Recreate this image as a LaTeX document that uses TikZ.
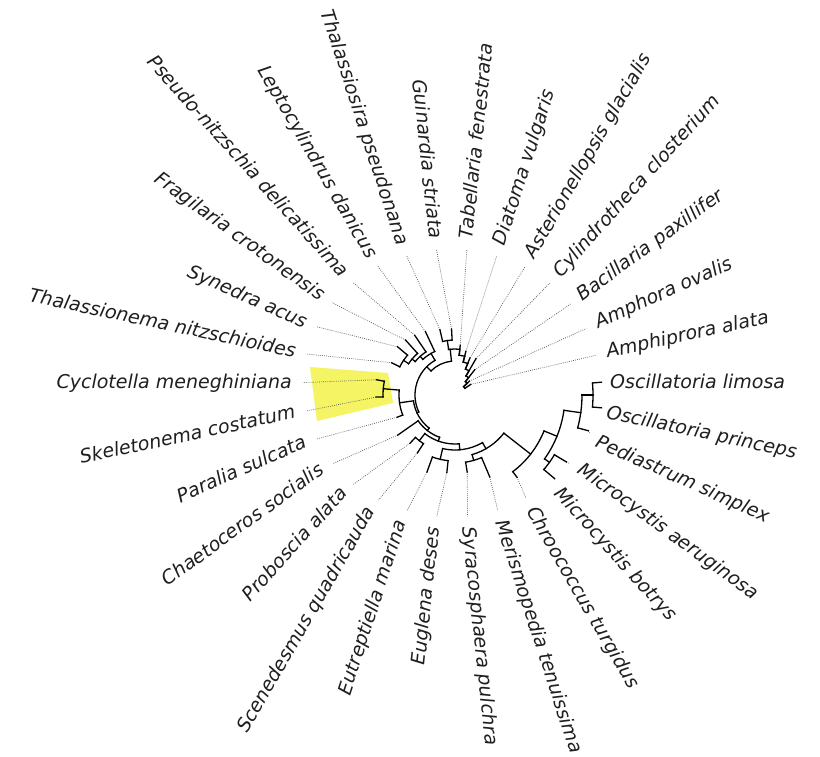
\documentclass[tikz,border=0pt]{standalone}
\usepackage{fontspec}
\newfontfamily\taxfont{DejaVu Sans}
\usetikzlibrary{calc}
\definecolor{hilite}{RGB}{244,244,100}
\tikzset{
  branch/.style = {line width=1.3pt, black, line cap=rect},
  leafline/.style = {black!65, line width=0.7pt,
    dash pattern=on 0.8pt off 1.3pt, shorten >=11pt},% dotted link tip -> name
  taxlabel/.style = {inner sep=0pt, text=black!88,
    font=\taxfont\itshape\fontsize{19}{22}\selectfont,
    text height=14pt, text depth=4pt}
}
% arc of a clade: radius, from, to (around the tree centre T)
\newcommand{\brarc}[3]{\draw[branch] ($(T)+(#2:#1pt)$) arc[start angle=#2, end angle=#3, radius=#1pt];}
% radial branch: angle, from radius, to radius
\newcommand{\brrad}[3]{\draw[branch] ($(T)+(#1:#2pt)$) -- ($(T)+(#1:#3pt)$);}
% leaf: [link style]{name}{tip angle}{tip radius}{label angle}{text}
\newcommand{\taxon}[6][leafline]{%
  \coordinate (t-#2) at ($(T)+(#3:#4pt)$);
  \pgfmathtruncatemacro{\flip}{and(#5>90,#5<270)}
  \ifnum\flip=1
    \node[taxlabel, anchor=east, rotate=#5+180] (l-#2) at ($(C)+({159*cos(#5)},{145*sin(#5)})$) {#6};
    \draw[#1] (t-#2) -- (l-#2.east);
  \else
    \node[taxlabel, anchor=west, rotate=#5] (l-#2) at ($(C)+({159*cos(#5)},{145*sin(#5)})$) {#6};
    \draw[#1] (t-#2) -- (l-#2.west);
  \fi}

\begin{document}
\begin{tikzpicture}[x=1pt,y=1pt]
  \fill[white] (0,0) rectangle (820,-756);
  \useasboundingbox (0,0) rectangle (820,-756);
  \coordinate (T) at (455,-395);% tree centre
  \coordinate (C) at (451,-383);% label centre

  % highlighted clade
  \fill[hilite] (310,-367) -- (388,-373) -- (393,-403) -- (317,-421) -- cycle;

  % leaves and names
  \taxon[draw=none]{olim}{5}{147}{0}{Oscillatoria limosa}
  \taxon[draw=none]{opri}{355}{147}{348}{Oscillatoria princeps}
  \taxon{pedi}{345}{138}{336}{Pediastrum simplex}
  \taxon{maer}{329}{130}{324}{Microcystis aeruginosa}
  \taxon{mbot}{320}{130}{312}{Microcystis botrys}
  \taxon{chro}{307}{103}{300}{Chroococcus turgidus}
  \taxon{meri}{293}{89}{288}{Merismopedia tenuissima}
  \taxon{syra}{279}{78}{276}{Syracosphaera pulchra}
  \taxon{eugl}{264}{78}{264}{Euglena deses}
  \taxon{eutr}{250}{82}{252}{Eutreptiella marina}
  \taxon{scen}{237}{69}{240}{Scenedesmus quadricauda}
  \taxon{prob}{227}{66}{228}{Proboscia alata}
  \taxon{chae}{215}{70}{216}{Chaetoceros socialis}
  \taxon{para}{201}{62}{204}{Paralia sulcata}
  \taxon{skel}{181.5}{79}{192}{Skeletonema costatum}
  \taxon{cycl}{169}{80}{180}{Cyclotella meneghiniana}
  \taxon{thni}{153}{71}{168}{Thalassionema nitzschioides}
  \taxon{syne}{140}{75}{156}{Synedra acus}
  \taxon{frag}{132}{74}{144}{Fragilaria crotonensis}
  \taxon{pseu}{124}{72}{132}{Pseudo-nitzschia delicatissima}
  \taxon{lept}{115}{70}{120}{Leptocylindrus danicus}
  \taxon{thps}{103}{67}{108}{Thalassiosira pseudonana}
  \taxon{guin}{93}{66}{96}{Guinardia striata}
  \taxon{tabe}{84}{50}{84}{Tabellaria fenestrata}
  \taxon{diat}{76}{45}{72}{Diatoma vulgaris}
  \taxon{aste}{68}{40}{60}{Asterionellopsis glacialis}
  \taxon{cyli}{60}{42}{48}{Cylindrotheca closterium}
  \taxon{baci}{52}{32}{36}{Bacillaria paxillifer}
  \taxon{amph}{44}{20}{24}{Amphora ovalis}
  \taxon{ampr}{34}{19}{12}{Amphiprora alata}

  % cyanobacteria side
  \brarc{138}{355}{365} \brrad{355}{138}{147} \brrad{365}{138}{147}
  \brarc{127}{345}{360} \brrad{360}{127}{138} \brrad{345}{127}{138}
  \brarc{116}{320}{329} \brrad{320}{116}{130} \brrad{329}{116}{130}
  \brarc{110}{324.5}{352} \brrad{352}{110}{127} \brrad{324.5}{110}{116}
  \brarc{96}{307}{338} \brrad{338}{96}{110} \brrad{307}{96}{103}
  % bottom
  \brarc{68}{279}{293} \brrad{279}{68}{78} \brrad{293}{68}{89}
  \brarc{62}{286}{322} \brrad{322}{62}{96} \brrad{286}{62}{68}
  \brarc{66}{250}{264} \brrad{250}{66}{82} \brrad{264}{66}{78}
  \brarc{55}{257}{300} \brrad{300}{55}{62} \brrad{257}{55}{66}
  \brarc{58}{227}{237} \brrad{227}{58}{66} \brrad{237}{58}{69}
  \brarc{49}{232}{275} \brrad{275}{49}{55} \brrad{232}{49}{58}
  \brarc{45}{215}{250} \brrad{250}{45}{49} \brrad{215}{45}{70}
  % left
  \brarc{72}{169}{181.5} \brrad{169}{72}{80} \brrad{181.5}{72}{79}
  \brarc{56}{175}{201} \brrad{175}{56}{72} \brrad{201}{56}{62}
  \brarc{42}{188}{232} \brrad{232}{42}{45} \brrad{188}{42}{56}
  \brarc{62}{140}{153} \brrad{140}{62}{75} \brrad{153}{62}{71}
  \brarc{56}{132}{146} \brrad{146}{56}{62} \brrad{132}{56}{74}
  \brarc{52}{124}{140} \brrad{140}{52}{56} \brrad{124}{52}{72}
  \brarc{48}{115}{132} \brrad{132}{48}{52} \brrad{115}{48}{70}
  \brarc{40}{120}{205} \brrad{205}{40}{42} \brrad{120}{40}{48}
  % root and top
  \brarc{34}{96}{135} \brrad{135}{34}{40} \brrad{96}{34}{46}
  \brarc{46}{84}{98} \brrad{98}{46}{55} \brrad{84}{46}{40}
  \brarc{55}{93}{103} \brrad{93}{55}{66} \brrad{103}{55}{67}
  \brarc{40}{76}{84} \brrad{84}{40}{50} \brrad{76}{40}{34}
  \brarc{34}{68}{76} \brrad{76}{34}{45} \brrad{68}{34}{28}
  \brarc{28}{60}{68} \brrad{68}{28}{40} \brrad{60}{28}{22}
  \brarc{22}{52}{60} \brrad{60}{22}{42} \brrad{52}{22}{17}
  \brarc{17}{44}{52} \brrad{52}{17}{32} \brrad{44}{17}{12}
  \brarc{12}{34}{44} \brrad{44}{12}{20} \brrad{34}{12}{19}
\end{tikzpicture}
\end{document}
